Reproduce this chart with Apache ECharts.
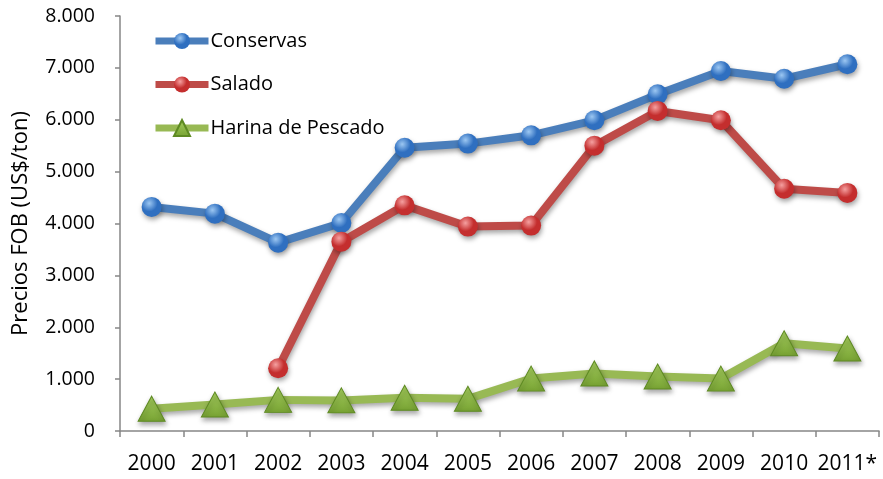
<!DOCTYPE html>
<html>
<head>
<meta charset="utf-8">
<script src="https://cdn.jsdelivr.net/npm/echarts@6/dist/echarts.min.js"></script>
<style>
html,body{margin:0;padding:0;background:#fff;}
#chart{width:883px;height:479px;}
</style>
</head>
<body>
<div id="chart"></div>
<script>
const years = ['2000','2001','2002','2003','2004','2005','2006','2007','2008','2009','2010','2011*'];
const conservas = [4320, 4190, 3630, 4010, 5460, 5540, 5700, 5990, 6490, 6940, 6790, 7070];
const salado = [null, null, 1210, 3650, 4350, 3940, 3960, 5500, 6170, 5990, 4670, 4590];
const harina = [430, 510, 600, 590, 640, 620, 1010, 1110, 1050, 1010, 1690, 1590];
const yTicks = [0, 1000, 2000, 3000, 4000, 5000, 6000, 7000, 8000];

const FONT = '"Open Sans", "Liberation Sans", sans-serif';

function radial(light, dark) {
  return {type:'radial', x:0.38, y:0.32, r:0.75,
    colorStops:[{offset:0,color:light},{offset:0.55,color:dark},{offset:1,color:dark}]};
}
function fmt(v){ return String(v).replace(/\B(?=(\d{3})+(?!\d))/g, '.'); }

const chart = echarts.init(document.getElementById('chart'));
const lineShadow = {shadowColor:'rgba(0,0,0,0.35)', shadowBlur:5, shadowOffsetX:1, shadowOffsetY:3};

chart.setOption({
  animation:false,
  backgroundColor:'#fff',
  grid:{left:120, right:4, top:16, bottom:48, containLabel:false, outerBoundsMode:'none'},
  legend:{
    left:147, top:26, orient:'vertical', itemWidth:53, itemHeight:20, itemGap:23.5,
    lineStyle:{width:7},
    textStyle:{fontFamily:FONT, fontSize:20, color:'#000', padding:[0,0,0,-3]},
    data:['Conservas','Salado','Harina de Pescado']
  },
  xAxis:{
    type:'category', data:years, boundaryGap:true,
    axisLine:{lineStyle:{color:'#868686', width:1.5}},
    axisTick:{show:true, length:6, inside:false, lineStyle:{color:'#868686', width:1.5}},
    axisLabel:{fontFamily:FONT, fontSize:21, color:'#000', margin:23, interval:0}
  },
  yAxis:{
    type:'value', min:yTicks[0], max:yTicks[yTicks.length-1], interval:1000,
    name:'Precios FOB (US$/ton)', nameLocation:'middle', nameGap:88, nameRotate:90,
    nameTextStyle:{fontFamily:FONT, fontSize:22, color:'#000'},
    axisLine:{show:true, lineStyle:{color:'#868686', width:1.5}},
    axisTick:{show:true, length:5, lineStyle:{color:'#868686', width:1.5}},
    splitLine:{show:false},
    axisLabel:{fontFamily:FONT, fontSize:19.5, color:'#000', margin:25, formatter:fmt}
  },
  series:[
    {
      name:'Conservas', type:'line', data:conservas, symbol:'circle', symbolSize:20,
      lineStyle:Object.assign({color:'#4A7EBB', width:8}, lineShadow),
      itemStyle:Object.assign({color:radial('#9CC7F2','#2F6FC0'), borderWidth:0}, lineShadow),
      z:3
    },
    {
      name:'Salado', type:'line', data:salado, symbol:'circle', symbolSize:20,
      lineStyle:Object.assign({color:'#BE4B48', width:8}, lineShadow),
      itemStyle:Object.assign({color:radial('#F5A0A0','#C42E2E'), borderWidth:0}, lineShadow),
      z:4
    },
    {
      name:'Harina de Pescado', type:'line', data:harina, symbol:'triangle', symbolSize:[27,25],
      lineStyle:Object.assign({color:'#98B954', width:8}, lineShadow),
      itemStyle:Object.assign({color:{type:'linear',x:0,y:0,x2:0,y2:1,colorStops:[{offset:0,color:'#A6CF5E'},{offset:1,color:'#77A233'}]}, borderColor:'#5E8A22', borderWidth:1}, lineShadow),
      z:2
    }
  ]
});
</script>
</body>
</html>
